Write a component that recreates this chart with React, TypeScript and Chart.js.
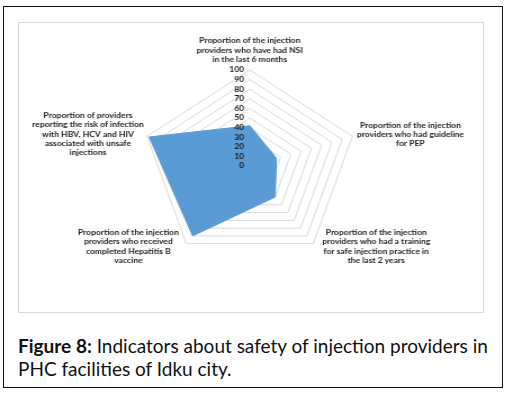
import React, { useEffect, useRef } from "react";
import { Chart, registerables } from "chart.js";

Chart.register(...registerables);

const categories: string[][] = [
  ["Proportion of the injection", "providers who have had NSI", "in the last 6 months"],
  ["Proportion of the injection", "providers who had guideline", "for PEP"],
  ["Proportion of the injection", "providers who had a training", "for safe injection practice in", "the last 2 years"],
  ["Proportion of the injection", "providers who received", "completed Hepatitis B", "vaccine"],
  ["Proportion of providers", "reporting the risk of infection", "with HBV, HCV and HIV", "associated with unsafe", "injections"],
];
const values: number[] = [42, 26, 40, 90, 98];
const tickValues: number[] = [0, 10, 20, 30, 40, 50, 60, 70, 80, 90, 100];

const STRETCH = 1.125;
const FONT = "Lato, 'Open Sans', sans-serif";
// label block offsets (canvas px) from the outer vertex of each axis: [dx, dy of first line]
const labelOffsets: [number, number][] = [
  [0, -29],
  [51.5, -11],
  [56, -11],
  [-51.5, -11],
  [-52.5, -20.5],
];

const labelPlugin = {
  id: "customLabels",
  afterDraw(chart: any) {
    const scale = chart.scales.r;
    const ctx = chart.ctx;
    ctx.save();
    ctx.fillStyle = "#1e1e1e";
    ctx.font = `bold 7.6px ${FONT}`;
    ctx.textBaseline = "middle";
    // tick labels
    ctx.textAlign = "right";
    tickValues.forEach((v) => {
      const d = scale.getDistanceFromCenterForValue(v);
      ctx.fillText(String(v), scale.xCenter - 5, scale.yCenter - d);
    });
    // point labels
    ctx.textAlign = "center";
    categories.forEach((lines, i) => {
      const p = scale.getPointPositionForValue(i, 100);
      const [dx, dy] = labelOffsets[i];
      lines.forEach((line, j) => {
        ctx.fillText(line, p.x + dx, p.y + dy + j * 9.2);
      });
    });
    ctx.restore();
  },
};

function RadarChart() {
  const ref = useRef<HTMLCanvasElement | null>(null);
  useEffect(() => {
    if (!ref.current) return;
    const chart = new Chart(ref.current, {
      type: "radar",
      data: {
        labels: categories.map((c) => c.join(" ")),
        datasets: [
          {
            data: values,
            backgroundColor: "#5b9bd5",
            borderColor: "#5b9bd5",
            borderWidth: 1,
            pointRadius: 0,
            fill: true,
          },
        ],
      },
      options: {
        animation: false,
        responsive: false,
        events: [],
        layout: { padding: { top: 48, bottom: 50, left: 0, right: 0 } },
        plugins: { legend: { display: false }, tooltip: { enabled: false } },
        scales: {
          r: {
            min: 0,
            max: 100,
            ticks: { stepSize: 10, display: false },
            grid: { color: "#d9d9d9", lineWidth: 1 },
            angleLines: { display: false },
            pointLabels: { display: false },
          },
        },
      },
      plugins: [labelPlugin],
    });
    return () => chart.destroy();
  }, []);
  return <canvas ref={ref} width={413} height={290} />;
}

export default function App() {
  useEffect(() => {
    document.body.style.margin = "0";
  }, []);
  return (
    <div style={{ position: "relative", width: 509, height: 394, background: "#fff", overflow: "hidden" }}>
      <div
        style={{
          position: "absolute",
          left: 3,
          top: 6,
          width: 498,
          height: 380,
          border: "1px solid #111",
        }}
      />
      <div
        style={{
          position: "absolute",
          left: 18,
          top: 22,
          width: 464,
          height: 289,
          border: "1px solid #d9d9d9",
        }}
      />
      <div
        style={{
          position: "absolute",
          left: 18,
          top: 22,
          width: 413,
          height: 290,
          transform: `scaleX(${STRETCH})`,
          transformOrigin: "0 0",
        }}
      >
        <RadarChart />
      </div>
      <div
        style={{
          position: "absolute",
          left: 18,
          top: 334,
          width: 485,
          fontFamily: FONT,
          fontSize: 19,
          lineHeight: "23px",
          color: "#111",
          whiteSpace: "nowrap",
        }}
      >
        <div>
          <b>Figure 8:</b> Indicators about safety of injection providers in
        </div>
        <div>PHC facilities of Idku city.</div>
      </div>
    </div>
  );
}
